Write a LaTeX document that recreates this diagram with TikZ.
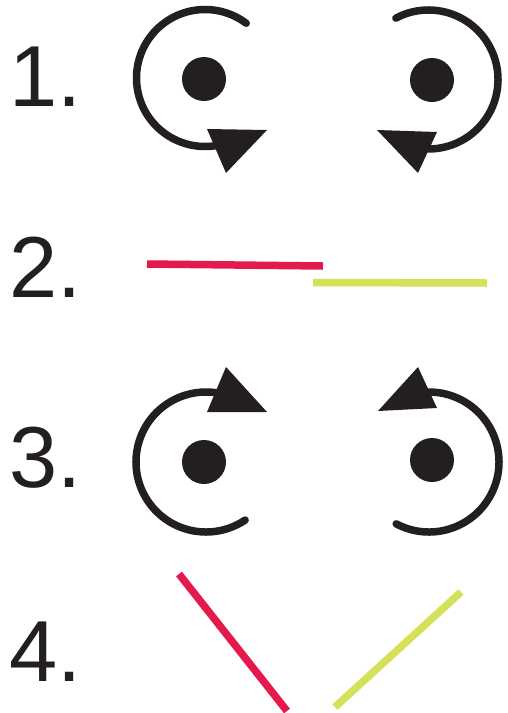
\documentclass[tikz,border=0pt]{standalone}
\usepackage{fontspec}
\setmainfont{Liberation Sans}
\definecolor{ink}{RGB}{35,31,32}
\definecolor{crimson}{RGB}{227,26,75}
\definecolor{lime}{RGB}{213,225,88}
\begin{document}
\begin{tikzpicture}[x=1pt,y=-1pt,
		num/.style={anchor=base west,inner sep=0pt,text=ink,font=\fontsize{86.6}{90}\selectfont},
		spin/.style={ink,line width=7.5pt,line cap=round},
		bar/.style={line width=7.5pt}]
				\useasboundingbox (0,0) rectangle (507,713);
				\node[num] (n1) at (9,106) {1.};
				\node[num] (n2) at (9,297) {2.};
				\node[num] (n3) at (9,487) {3.};
				\node[num] (n4) at (9,681) {4.};
				\draw[spin] (205,78) ++(-53:68.5) arc[start angle=-53, end angle=-280, radius=68.5];
				\fill[ink] (207,129) -- (267,130) -- (226,173) -- cycle;
				\fill[ink] (204,79) circle[radius=22];
				\draw[spin] (428.5,79.5) ++(-118:69.5) arc[start angle=-118, end angle=95, radius=69.5];
				\fill[ink] (377,130) -- (437,132) -- (418,173) -- cycle;
				\fill[ink] (432,80) circle[radius=22];
				\draw[bar,crimson] (147,264) -- (323,266);
				\draw[bar,lime] (313,282.5) -- (487,283);
				\draw[spin] (206,462) ++(56:70) arc[start angle=56, end angle=280, radius=70];
				\fill[ink] (226,367) -- (267,412) -- (207,412) -- cycle;
				\fill[ink] (204,462) circle[radius=22];
				\draw[spin] (429,462) ++(118:70) arc[start angle=118, end angle=-95, radius=70];
				\fill[ink] (418,367) -- (378,411) -- (437,408) -- cycle;
				\fill[ink] (432,460) circle[radius=22];
				\draw[bar,crimson] (179,574) -- (287,711);
				\draw[bar,lime] (335,707) -- (461,592);
			\end{tikzpicture}
\end{document}
